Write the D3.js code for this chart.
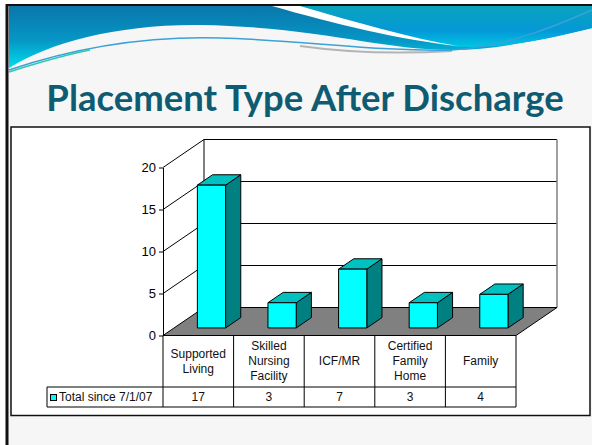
<!doctype html>
<html>
  <head>
    <meta charset="utf-8">
    <title>Placement Type After Discharge</title>
    <script src="https://cdn.jsdelivr.net/npm/d3@7"></script>
    <style>
      html, body { margin: 0; padding: 0; background: #fff; }
      svg { display: block; }
    </style>
  </head>
  <body>
    <script>
      // data
      const categories = [
        ['Supported', 'Living'],
        ['Skilled', 'Nursing', 'Facility'],
        ['ICF/MR'],
        ['Certified', 'Family', 'Home'],
        ['Family']
      ];
      const values = [17, 3, 7, 3, 4];
      const seriesName = 'Total since 7/1/07';
      const yTicks = [0, 5, 10, 15, 20];
      const title = 'Placement Type After Discharge';

      const width = 592;
      const height = 445;

      // depth of the 3d box
      const DX = 41, DY = -28;
      // bar depth (fraction of the box)
      const Z0 = 0.27, Z1 = 0.64;

      const svg = d3.select('body').append('svg')
          .attr('width', width)
          .attr('height', height);

      const defs = svg.append('defs');

      const gBlue = defs.append('linearGradient')
          .attr('id', 'blue').attr('x1', 0).attr('y1', 0).attr('x2', 0).attr('y2', 1);
      gBlue.append('stop').attr('offset', '0%').attr('stop-color', '#0a76aa');
      gBlue.append('stop').attr('offset', '55%').attr('stop-color', '#0696c6');
      gBlue.append('stop').attr('offset', '100%').attr('stop-color', '#00dcea');

      const gTeal = defs.append('linearGradient')
          .attr('id', 'teal').attr('x1', 0).attr('y1', 0).attr('x2', 0).attr('y2', 1);
      gTeal.append('stop').attr('offset', '0%').attr('stop-color', '#0aa4bc');
      gTeal.append('stop').attr('offset', '60%').attr('stop-color', '#0498d8');
      gTeal.append('stop').attr('offset', '100%').attr('stop-color', '#00c6e2');

      // slide background
      svg.append('rect')
          .attr('x', 7).attr('y', 5)
          .attr('width', width - 7).attr('height', height - 5)
          .attr('fill', '#f6f6f6');

      // header wave
      const header = svg.append('g');
      header.append('path')
          .attr('d', 'M9,6 H592 V28 C540,40 495,50 452,50 C380,50 320,27 200,25 C120,24 50,42 9,68 Z')
          .attr('fill', 'url(#blue)');
      header.append('path')
          .attr('d', 'M290,6 H592 V28 C545,40 505,48 458,47 C405,40 345,22 290,6 Z')
          .attr('fill', 'url(#teal)');
      header.append('path')
          .attr('d', 'M272,6 L300,6 C355,22 410,38 458,46 C400,40 335,24 272,6 Z')
          .attr('fill', '#fff');
      header.append('path')
          .attr('d', 'M300,46 C350,53 400,54 452,51')
          .attr('fill', 'none')
          .attr('stroke', '#b4b4b4')
          .attr('stroke-width', 2);
      header.append('path')
          .attr('d', 'M9,70 C80,46 150,36 220,38 C300,40 380,52 452,50 C510,46 560,24 592,10')
          .attr('fill', 'none')
          .attr('stroke', '#3aa2d8')
          .attr('stroke-width', 1.5);
      header.append('path')
          .attr('d', 'M9,72 C40,62 60,56 90,50')
          .attr('fill', 'none')
          .attr('stroke', '#2cc8b0')
          .attr('stroke-width', 1.5);

      // slide frame
      svg.append('line')
          .attr('x1', 7).attr('x2', 7).attr('y1', 4).attr('y2', height)
          .attr('stroke', '#111').attr('stroke-width', 3);
      svg.append('line')
          .attr('x1', 6).attr('x2', width).attr('y1', 5).attr('y2', 5)
          .attr('stroke', '#111').attr('stroke-width', 2);

      // title
      svg.append('text')
          .attr('x', 305)
          .attr('y', 111)
          .attr('text-anchor', 'middle')
          .attr('font-family', 'Lato, "Open Sans", sans-serif')
          .attr('font-weight', 700)
          .attr('font-size', 36.5)
          .attr('fill', '#0f5c72')
          .text(title);

      // chart panel
      svg.append('rect')
          .attr('x', 11).attr('y', 127)
          .attr('width', 579).attr('height', 288.5)
          .attr('fill', '#fff')
          .attr('stroke', '#111')
          .attr('stroke-width', 1.5);

      // scales
      const x = d3.scaleBand()
          .domain(d3.range(categories.length))
          .range([163, 516]);

      const y = d3.scaleLinear()
          .domain([0, 20])
          .range([335.5, 167.5]);

      const p = (px, v, z) => [px + z * DX, y(v) + z * DY];
      const poly = pts => 'M' + pts.map(d => d.join(',')).join('L') + 'Z';

      const chart = svg.append('g');

      const x0 = x.range()[0], x1 = x.range()[1];
      const yMax = y.domain()[1];

      // left side wall
      chart.append('path')
          .attr('d', poly([p(x0, 0, 0), p(x0, yMax, 0), p(x0, yMax, 1), p(x0, 0, 1)]))
          .attr('fill', '#fff');

      // back wall
      chart.append('path')
          .attr('d', poly([p(x0, 0, 1), p(x0, yMax, 1), p(x1, yMax, 1), p(x1, 0, 1)]))
          .attr('fill', '#fff');

      // gridlines on back wall and side wall
      chart.selectAll('.grid')
        .data(yTicks.filter(d => d > 0))
        .enter().append('path')
          .attr('class', 'grid')
          .attr('d', d => 'M' + p(x0, d, 0) + 'L' + p(x0, d, 1) + 'L' + p(x1, d, 1))
          .attr('fill', 'none')
          .attr('stroke', '#000')
          .attr('stroke-width', 1);

      // back wall edges
      chart.append('path')
          .attr('d', 'M' + p(x0, 0, 1) + 'L' + p(x0, yMax, 1))
          .attr('stroke', '#000').attr('fill', 'none');
      chart.append('path')
          .attr('d', 'M' + p(x1, 0, 1) + 'L' + p(x1, yMax, 1))
          .attr('stroke', '#808080').attr('stroke-width', 1.5).attr('fill', 'none');

      // floor
      chart.append('path')
          .attr('d', poly([p(x0, 0, 0), p(x1, 0, 0), p(x1, 0, 1), p(x0, 0, 1)]))
          .attr('fill', '#808080')
          .attr('stroke', '#000')
          .attr('stroke-width', 1);

      // bars
      const bw = x.bandwidth();
      const bars = chart.selectAll('.bar')
        .data(values)
        .enter().append('g')
          .attr('class', 'bar')
          .attr('stroke', '#000')
          .attr('stroke-width', 1)
          .attr('stroke-linejoin', 'round');

      const bl = (d, i) => x(i) + bw * 0.33;
      const br = (d, i) => x(i) + bw * 0.73;

      bars.append('path')
          .attr('d', (d, i) => poly([p(br(d, i), 0, Z0), p(br(d, i), d, Z0), p(br(d, i), d, Z1), p(br(d, i), 0, Z1)]))
          .attr('fill', '#008080');
      bars.append('path')
          .attr('d', (d, i) => poly([p(bl(d, i), d, Z0), p(br(d, i), d, Z0), p(br(d, i), d, Z1), p(bl(d, i), d, Z1)]))
          .attr('fill', '#00c0c0');
      bars.append('path')
          .attr('d', (d, i) => poly([p(bl(d, i), 0, Z0), p(bl(d, i), d, Z0), p(br(d, i), d, Z0), p(br(d, i), 0, Z0)]))
          .attr('fill', '#00ffff');

      // y axis
      const yAxis = d3.axisLeft(y)
          .tickValues(yTicks)
          .tickSize(4)
          .tickSizeOuter(0)
          .tickPadding(3);

      const gy = svg.append('g')
          .attr('transform', `translate(${x0},0)`)
          .call(yAxis);
      gy.select('.domain').attr('stroke', '#000');
      gy.selectAll('.tick line').attr('stroke', '#000');
      gy.selectAll('.tick text')
          .attr('font-family', '"Liberation Sans", Arial, sans-serif')
          .attr('font-size', 13)
          .attr('fill', '#000');

      // data table
      const rowTop = y(0), row1 = 387, row2 = 407;
      const legendLeft = 47;
      const table = svg.append('g')
          .attr('font-family', '"Liberation Sans", Arial, sans-serif')
          .attr('font-size', 12)
          .attr('fill', '#111')
          .attr('text-anchor', 'middle');

      const tableLines = table.append('g')
          .attr('stroke', '#000')
          .attr('stroke-width', 1)
          .attr('fill', 'none');

      tableLines.selectAll('.vline')
        .data(d3.range(categories.length + 1))
        .enter().append('line')
          .attr('x1', i => i < categories.length ? x(i) : x1)
          .attr('x2', i => i < categories.length ? x(i) : x1)
          .attr('y1', rowTop)
          .attr('y2', row2);
      tableLines.append('line')
          .attr('x1', legendLeft).attr('x2', x1)
          .attr('y1', row1).attr('y2', row1);
      tableLines.append('line')
          .attr('x1', legendLeft).attr('x2', x1)
          .attr('y1', row2).attr('y2', row2);
      tableLines.append('line')
          .attr('x1', legendLeft).attr('x2', legendLeft)
          .attr('y1', row1).attr('y2', row2);

      // category labels
      table.selectAll('.cat')
        .data(categories)
        .enter().append('text')
          .attr('class', 'cat')
          .attr('x', (d, i) => x(i) + bw / 2)
          .attr('y', d => (rowTop + row1) / 2 - (d.length - 1) * 7.5 + 4)
          .selectAll('tspan')
          .data(d => d)
          .enter().append('tspan')
            .attr('x', function() { return this.parentNode.getAttribute('x'); })
            .attr('dy', (d, i) => i ? 15 : 0)
            .text(d => d);

      // values row
      table.selectAll('.val')
        .data(values)
        .enter().append('text')
          .attr('class', 'val')
          .attr('x', (d, i) => x(i) + bw / 2)
          .attr('y', (row1 + row2) / 2 + 4)
          .text(d => d);

      // legend key
      table.append('rect')
          .attr('x', legendLeft + 3.5).attr('y', 394.5)
          .attr('width', 6).attr('height', 6)
          .attr('fill', '#00ffff')
          .attr('stroke', '#000')
          .attr('stroke-width', 1);
      table.append('text')
          .attr('x', legendLeft + 12)
          .attr('y', (row1 + row2) / 2 + 4)
          .attr('text-anchor', 'start')
          .text(seriesName);
    </script>
  </body>
</html>
